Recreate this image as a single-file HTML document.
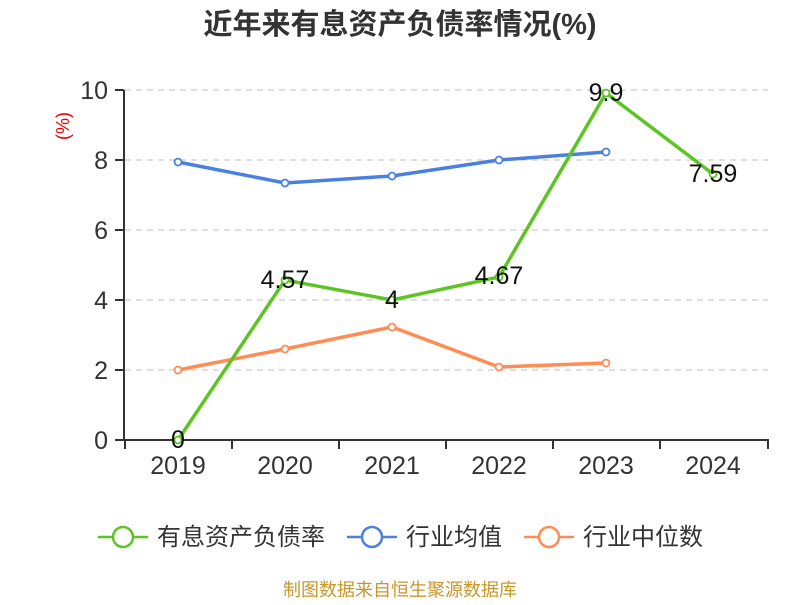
<!DOCTYPE html>
<html><head><meta charset="utf-8"><style>
html,body{margin:0;padding:0;background:#fff;}
svg text{font-family:"Liberation Sans","Noto Sans CJK SC",sans-serif;}
</style></head><body>
<svg width="800" height="600" viewBox="0 0 800 600" xmlns="http://www.w3.org/2000/svg">
<rect width="800" height="600" fill="#fff"/>
<text x="400" y="34" text-anchor="middle" font-size="29" font-weight="bold" fill="#333">近年来有息资产负债率情况(%)</text>
<text transform="translate(69,126) rotate(-90)" text-anchor="middle" font-size="18" fill="#e00">(%)</text>
<g stroke="#ccc" stroke-dasharray="6,5" stroke-width="1.2">
<line x1="125" y1="90" x2="768" y2="90"/>
<line x1="125" y1="160" x2="768" y2="160"/>
<line x1="125" y1="230" x2="768" y2="230"/>
<line x1="125" y1="300" x2="768" y2="300"/>
<line x1="125" y1="370" x2="768" y2="370"/>
</g>
<g stroke="#333" stroke-width="2">
<line x1="124" y1="90" x2="124" y2="441"/>
<line x1="115" y1="90" x2="124" y2="90"/>
<line x1="115" y1="160" x2="124" y2="160"/>
<line x1="115" y1="230" x2="124" y2="230"/>
<line x1="115" y1="300" x2="124" y2="300"/>
<line x1="115" y1="370" x2="124" y2="370"/>
<line x1="115" y1="440" x2="124" y2="440"/>
<line x1="124" y1="440" x2="769" y2="440"/>
<line x1="125" y1="440" x2="125" y2="449"/>
<line x1="232" y1="440" x2="232" y2="449"/>
<line x1="339" y1="440" x2="339" y2="449"/>
<line x1="446" y1="440" x2="446" y2="449"/>
<line x1="553" y1="440" x2="553" y2="449"/>
<line x1="660" y1="440" x2="660" y2="449"/>
<line x1="768" y1="440" x2="768" y2="449"/>
</g>
<g font-size="25" fill="#333" text-anchor="end">
<text x="108" y="99">10</text><text x="108" y="169">8</text><text x="108" y="239">6</text>
<text x="108" y="309">4</text><text x="108" y="379">2</text><text x="108" y="449">0</text>
</g>
<g font-size="25" fill="#333" text-anchor="middle">
<text x="178" y="474">2019</text><text x="285" y="474">2020</text><text x="392" y="474">2021</text>
<text x="499" y="474">2022</text><text x="606" y="474">2023</text><text x="713" y="474">2024</text>
</g>
<g fill="none" stroke-width="3.5">
<polyline stroke="#4a80e0" points="178,162 285,183 392,176 499,160 606,152"/>
<polyline stroke="#ff8c55" points="178,370 285,349 392,327 499,367 606,363"/>
<polyline stroke="#5cc523" points="178,440 285,280 392,300 499,277 606,93 713,174"/>
</g>
<g fill="#fff" stroke-width="1.8">
<g stroke="#4a80e0"><circle cx="178" cy="162" r="3.5"/><circle cx="285" cy="183" r="3.5"/><circle cx="392" cy="176" r="3.5"/><circle cx="499" cy="160" r="3.5"/><circle cx="606" cy="152" r="3.5"/></g>
<g stroke="#ff8c55"><circle cx="178" cy="370" r="3.5"/><circle cx="285" cy="349" r="3.5"/><circle cx="392" cy="327" r="3.5"/><circle cx="499" cy="367" r="3.5"/><circle cx="606" cy="363" r="3.5"/></g>
<g stroke="#5cc523"><circle cx="178" cy="440" r="3.5"/><circle cx="285" cy="280" r="3.5"/><circle cx="392" cy="300" r="3.5"/><circle cx="499" cy="277" r="3.5"/><circle cx="606" cy="93" r="3.5"/><circle cx="713" cy="174" r="3.5"/></g>
</g>
<g font-size="25" fill="#111" text-anchor="middle">
<text x="178" y="448">0</text><text x="285" y="288">4.57</text><text x="392" y="308">4</text>
<text x="499" y="284">4.67</text><text x="606" y="101">9.9</text><text x="713" y="182">7.59</text>
</g>
<g stroke-width="2.5" fill="#fff">
<line x1="98" y1="537" x2="148" y2="537" stroke="#5cc523"/><circle cx="123" cy="537" r="10" stroke="#5cc523"/>
<line x1="347" y1="537" x2="397" y2="537" stroke="#4a80e0"/><circle cx="372" cy="537" r="10" stroke="#4a80e0"/>
<line x1="524" y1="537" x2="574" y2="537" stroke="#ff8c55"/><circle cx="549" cy="537" r="10" stroke="#ff8c55"/>
</g>
<g font-size="24" fill="#333">
<text x="157" y="545">有息资产负债率</text><text x="406" y="545">行业均值</text><text x="583" y="545">行业中位数</text>
</g>
<text x="400" y="596" text-anchor="middle" font-size="18" fill="#c8962a">制图数据来自恒生聚源数据库</text>
</svg>
</body></html>
